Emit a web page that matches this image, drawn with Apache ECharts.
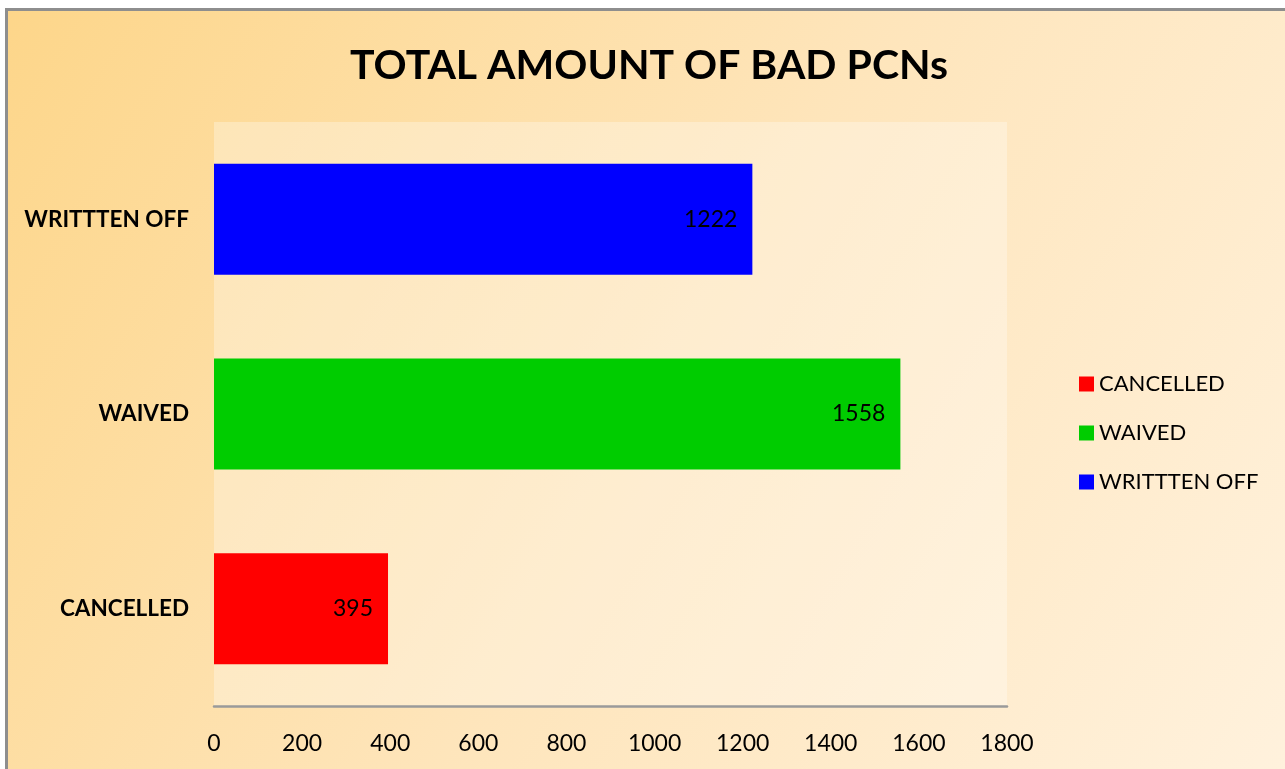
<!DOCTYPE html>
<html>
<head>
<meta charset="utf-8">
<script src="https://cdn.jsdelivr.net/npm/echarts@6/dist/echarts.min.js"></script>
<style>
  html, body { margin: 0; padding: 0; background: #fff; overflow: hidden; }
  #chart {
    position: absolute; left: 5px; top: 8px;
    width: 1300px; height: 780px;
    border: 3px solid #8e8e8e;
  }
</style>
</head>
<body>
<div id="chart"></div>
<script>
// categories bottom to top, like the excel bar chart
var categories = ['CANCELLED', 'WAIVED', 'WRITTTEN OFF'];
var values = [395, 1558, 1222];
var barColors = ['#ff0000', '#00cc00', '#0000ff'];
var xTicks = { min: 0, max: 1800, step: 200 };

var chart = echarts.init(document.getElementById('chart'));

// one series per category so each gets its own legend entry
var series = categories.map(function (name, i) {
  var data = categories.map(function (c, j) { return j === i ? values[i] : '-'; });
  return {
    name: name,
    type: 'bar',
    stack: 'all',
    barWidth: 111,
    data: data,
    itemStyle: { color: barColors[i] },
    label: {
      show: true,
      position: 'insideRight',
      distance: 15,
      color: '#000',
      fontSize: 23,
      fontFamily: 'Lato'
    }
  };
});

var option = {
  backgroundColor: new echarts.graphic.LinearGradient(0, 0, 1, 1, [
    { offset: 0, color: '#fdd68a' },
    { offset: 0.5, color: '#fee5bb' },
    { offset: 1, color: '#fff2de' }
  ]),
  animation: false,
  title: {
    text: 'TOTAL AMOUNT OF BAD PCNs',
    left: 636,
    textAlign: 'center',
    top: 29,
    textStyle: { fontFamily: 'Lato', fontWeight: 'bold', fontSize: 41, color: '#000' }
  },
  legend: {
    orient: 'vertical',
    left: 1066,
    top: 357,
    itemWidth: 15,
    itemHeight: 15,
    itemGap: 27,
    icon: 'rect',
    data: categories,
    textStyle: { fontFamily: 'Lato', fontSize: 22, color: '#000' }
  },
  grid: {
    left: 206,
    top: 111,
    width: 793,
    height: 584,
    show: true,
    backgroundColor: 'rgba(255,255,255,0.3)',
    borderWidth: 0
  },
  xAxis: {
    type: 'value',
    min: xTicks.min,
    max: xTicks.max,
    interval: xTicks.step,
    axisLine: { show: true, lineStyle: { color: '#9a9a9a', width: 2.5 } },
    axisTick: { show: false },
    splitLine: { show: false },
    axisLabel: {
      margin: 26, fontFamily: 'Lato', fontSize: 23, color: '#000',
      formatter: function (v) { return String(v); }
    }
  },
  yAxis: {
    type: 'category',
    data: categories,
    axisLine: { show: false },
    axisTick: { show: false },
    axisLabel: { margin: 25, fontFamily: 'Lato', fontWeight: 'bold', fontSize: 22.5, color: '#000' }
  },
  series: series
};

chart.setOption(option);
</script>
</body>
</html>
